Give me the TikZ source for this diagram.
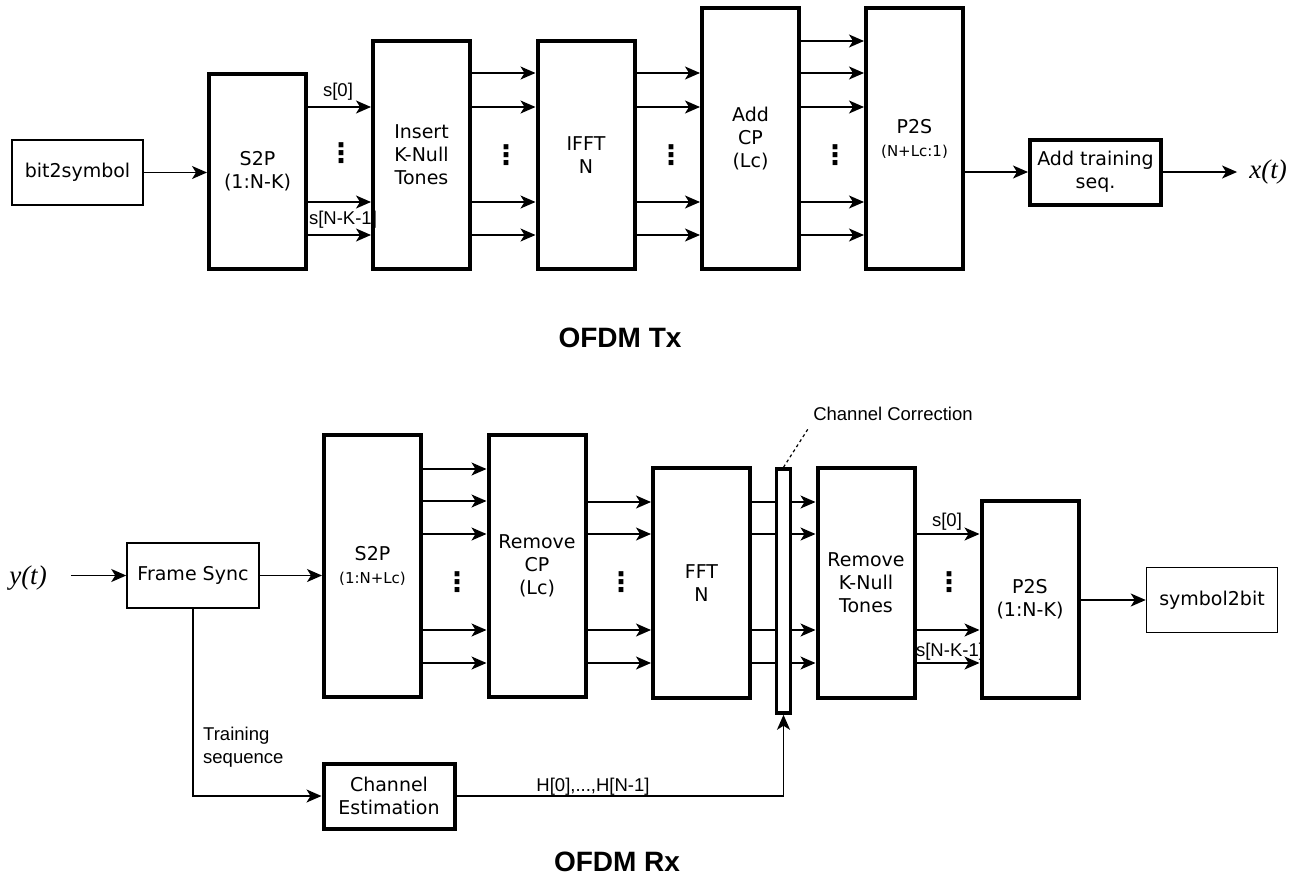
\documentclass[tikz,border=0pt]{standalone}
\usepackage{fontspec}
\setmainfont{DejaVu Sans}
\newfontfamily\lblfont{Liberation Sans}
\newfontfamily\tmsfont{Liberation Serif}
\usetikzlibrary{arrows.meta}
\tikzset{
  blk/.style={draw,line width=4pt,minimum width=97pt,align=center,inner sep=2pt,
    font=\fontsize{19}{23}\selectfont},
  tblk/.style={draw,line width=1.5pt,minimum width=131pt,minimum height=65pt,align=center,
    inner sep=2pt,font=\fontsize{19}{23}\selectfont},
  arr/.style={-{Stealth[length=15pt,width=13pt,inset=4pt]},line width=1.5pt},
  lbl/.style={font=\lblfont\fontsize{18.5}{23}\selectfont,inner sep=0pt,align=left},
  vd/.style={font=\bfseries\fontsize{27}{27}\selectfont,inner sep=0pt},
  sig/.style={font=\tmsfont\itshape\fontsize{27}{30}\selectfont,inner sep=0pt},
  ttl/.style={font=\lblfont\bfseries\fontsize{28}{30}\selectfont,inner sep=0pt},
}
\newcommand{\smallfs}{\fontsize{15}{17}\selectfont}

\begin{document}
\begin{tikzpicture}[x=1pt,y=-1pt]
  \useasboundingbox (0,0) rectangle (1299,879);

  % ---- OFDM Tx ----
  \node[tblk] (b2s) at (77.5,172.5) {bit2symbol};
  \node[blk,minimum height=195pt] (s2pt) at (257.5,171.5) {S2P\\(1:N-K)};
  \node[blk,minimum height=228pt] (ins) at (421.5,155) {Insert\\K-Null\\Tones};
  \node[blk,minimum height=228pt] (ifft) at (586,155) {IFFT\\N};
  \node[blk,minimum height=261pt] (acp) at (750.5,138.5) {Add\\CP\\(Lc)};
  \node[blk,minimum height=261pt] (p2st) at (914.5,138.5) {P2S\\{\smallfs (N+Lc:1)}};
  \node[tblk,line width=4pt] (trn) at (1095.5,172) {Add training\\seq.};
  \node[sig] (xt) at (1268,172) {x(t)};
  \node[ttl] (tx) at (620,338) {OFDM Tx};

  \draw[arr] (b2s) -- (s2pt.west |- b2s);
  \foreach \y in {107,202,235}
    \draw[arr] (s2pt.east |- 0,\y) -- (ins.west |- 0,\y);
  \foreach \y in {73,107,202,235}
    \draw[arr] (ins.east |- 0,\y) -- (ifft.west |- 0,\y);
  \foreach \y in {73,107,202,235}
    \draw[arr] (ifft.east |- 0,\y) -- (acp.west |- 0,\y);
  \foreach \y in {41,73,107,202,235}
    \draw[arr] (acp.east |- 0,\y) -- (p2st.west |- 0,\y);
  \draw[arr] (p2st.east |- trn) -- (trn);
  \draw[arr,shorten >=12pt] (trn) -- (xt.west |- trn);
  \node[lbl] (s0t) at (338,92) {s[0]};
  \node[lbl] (snt) at (343,220) {s[N-K-1]};
  \node[vd] (d1) at (341,153) {⋮};
  \node[vd] (d2) at (506,155) {⋮};
  \node[vd] (d3) at (671,155) {⋮};
  \node[vd] (d4) at (835,155) {⋮};

  % ---- OFDM Rx ----
  \node[sig] (yt) at (28,578) {y(t)};
  \node[tblk,minimum width=132pt] (fs) at (193,575.5) {Frame Sync};
  \node[blk,minimum height=262pt] (s2pr) at (372.5,566) {S2P\\{\smallfs (1:N+Lc)}};
  \node[blk,minimum height=262pt] (rcp) at (537,566) {Remove\\CP\\(Lc)};
  \node[blk,minimum height=230pt] (fft) at (701.5,583) {FFT\\N};
  \node[blk,minimum height=230pt] (rkn) at (866,583) {Remove\\K-Null\\Tones};
  \node[blk,minimum height=197pt] (p2sr) at (1030,599.5) {P2S\\(1:N-K)};
  \node[tblk] (s2b) at (1212,600) {symbol2bit};
  \node[tblk,line width=4pt] (ce) at (389,796) {Channel\\Estimation};
  \node[ttl] (rx) at (617,862) {OFDM Rx};

  \draw[arr,shorten <=24pt] (yt.east |- fs) -- (fs);
  \draw[arr] (fs) -- (s2pr.west |- fs);
  \foreach \y in {469,501,534,630,663}
    \draw[arr] (s2pr.east |- 0,\y) -- (rcp.west |- 0,\y);
  \foreach \y in {502,534,630,663}
    \draw[arr] (rcp.east |- 0,\y) -- (fft.west |- 0,\y);
  \foreach \y in {502,534,630,663}
    \draw[arr] (fft.east |- 0,\y) -- (rkn.west |- 0,\y);
  \node[draw,fill=white,line width=3.5pt,minimum width=14pt,minimum height=244pt,inner sep=0pt]
    (bar) at (783.5,591) {};
  \foreach \y in {534,630,663}
    \draw[arr] (rkn.east |- 0,\y) -- (p2sr.west |- 0,\y);
  \draw[arr] (p2sr.east |- s2b) -- (s2b);
  \node[lbl] (s0r) at (947,522) {s[0]};
  \node[lbl] (snr) at (950,652) {s[N-K-1]};
  \node[vd] (d5) at (457,582) {⋮};
  \node[vd] (d6) at (621,582) {⋮};
  \node[vd] (d7) at (949,582) {⋮};

  \node[lbl] (ccl) at (893,414) {Channel Correction};
  \draw[dashed,line width=1.2pt,shorten >=8pt] (bar.north) -- (ccl.south west);
  \draw[arr] (fs.south) |- (ce.west);
  \node[lbl,anchor=north west] (tsl) at (203,727) {Training\\sequence};
  \draw[arr] (ce.east) -| (bar.south);
  \node[lbl] (hl) at (593,787) {H[0],...,H[N-1]};
\end{tikzpicture}
\end{document}
